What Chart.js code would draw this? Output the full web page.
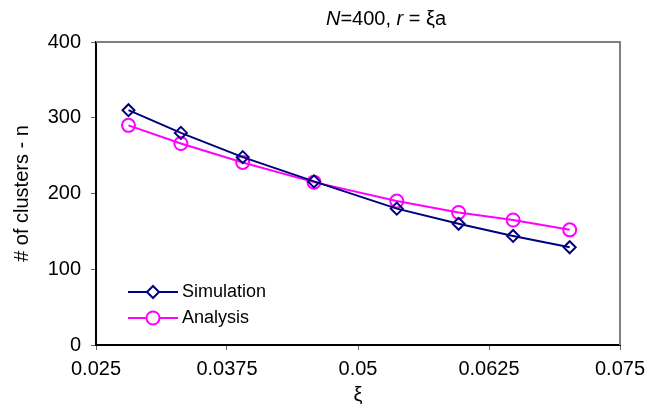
<!DOCTYPE html>
<html>
<head>
<meta charset="utf-8">
<script src="https://cdn.jsdelivr.net/npm/chart.js@4.4.0/dist/chart.umd.min.js"></script>
<style>
  html, body { margin: 0; padding: 0; background: #fff; }
  canvas { display: block; }
</style>
</head>
<body>
<canvas id="chart" width="646" height="415"></canvas>
<script>
// data
const xi = [0.0281, 0.0331, 0.0390, 0.0458, 0.0537, 0.0596, 0.0648, 0.0702];
const simulation = [310, 280, 248, 216, 180, 160, 144, 129];
const analysis = [290, 266, 241, 215, 190, 175, 165, 152];
const xTicks = [0.025, 0.0375, 0.05, 0.0625, 0.075];
const xTickLabels = ['0.025', '0.0375', '0.05', '0.0625', '0.075'];
const yTicks = [0, 100, 200, 300, 400];

const FONT = "'Liberation Sans', Arial, sans-serif";

const points = ys => ys.map((y, i) => ({ x: xi[i], y: y }));

// frame (grey top/right), title with italics, legend inside the plot
const decorations = {
  id: 'decorations',
  afterDraw(chart) {
    const ctx = chart.ctx;
    const a = chart.chartArea;
    ctx.save();
    ctx.strokeStyle = '#808080';
    ctx.lineWidth = 2;
    ctx.beginPath();
    ctx.moveTo(a.left, a.top);
    ctx.lineTo(a.right, a.top);
    ctx.lineTo(a.right, a.bottom);
    ctx.stroke();

    // title
    const parts = [
      ['N', true], ['=400, ', false], ['r', true], [' = \u03BEa', false]
    ];
    ctx.fillStyle = '#000';
    ctx.textBaseline = 'middle';
    let total = 0;
    parts.forEach(p => {
      ctx.font = (p[1] ? 'italic ' : '') + '20px ' + FONT;
      total += ctx.measureText(p[0]).width;
    });
    let x = 386 - total / 2;
    parts.forEach(p => {
      ctx.font = (p[1] ? 'italic ' : '') + '20px ' + FONT;
      ctx.fillText(p[0], x, 19);
      x += ctx.measureText(p[0]).width;
    });

    // legend
    chart.data.datasets.forEach((ds, i) => {
      const y = 292 + i * 26;
      const x0 = 128, x1 = 178, mx = 153;
      ctx.strokeStyle = ds.borderColor;
      ctx.lineWidth = 2;
      ctx.beginPath();
      ctx.moveTo(x0, y);
      ctx.lineTo(x1, y);
      ctx.stroke();
      ctx.fillStyle = '#fff';
      Chart.helpers.drawPoint(ctx, {
        pointStyle: ds.pointStyle,
        radius: ds.pointRadius,
        borderWidth: 2
      }, mx, y);
      ctx.fillStyle = '#000';
      ctx.font = '18px ' + FONT;
      ctx.textBaseline = 'middle';
      ctx.fillText(ds.label, 182, y);
    });
    ctx.restore();
  }
};

new Chart(document.getElementById('chart'), {
  type: 'line',
  data: {
    datasets: [
      {
        label: 'Simulation',
        data: points(simulation),
        borderColor: '#000080',
        backgroundColor: 'rgba(0,0,0,0)',
        borderWidth: 2,
        pointStyle: 'rectRot',
        pointRadius: 6,
        pointBorderWidth: 2,
        pointBackgroundColor: 'rgba(0,0,0,0)',
        pointBorderColor: '#000080'
      },
      {
        label: 'Analysis',
        data: points(analysis),
        borderColor: '#FF00FF',
        backgroundColor: 'rgba(0,0,0,0)',
        borderWidth: 2,
        pointStyle: 'circle',
        pointRadius: 6.5,
        pointBorderWidth: 2,
        pointBackgroundColor: 'rgba(0,0,0,0)',
        pointBorderColor: '#FF00FF'
      }
    ]
  },
  options: {
    responsive: false,
    animation: false,
    devicePixelRatio: 1,
    layout: { padding: { left: 0, top: 42, right: 26, bottom: 0 } },
    plugins: {
      legend: { display: false },
      tooltip: { enabled: false }
    },
    scales: {
      x: {
        type: 'linear',
        min: 0.025,
        max: 0.075,
        afterBuildTicks: s => { s.ticks = xTicks.map(v => ({ value: v })); },
        afterFit: s => { s.height = 70; s.paddingLeft = 0; s.paddingRight = 0; },
        ticks: {
          callback: (v, i) => xTickLabels[i],
          color: '#000',
          font: { family: FONT, size: 20 },
          padding: 7,
          maxRotation: 0
        },
        grid: { drawOnChartArea: false, tickLength: 5, color: '#000', tickColor: '#666' },
        border: { color: '#000', width: 2 },
        title: {
          display: true,
          text: '\u03BE',
          color: '#000',
          font: { family: FONT, size: 20 },
          padding: { top: 0, bottom: 8 }
        }
      },
      y: {
        min: 0,
        max: 400,
        afterBuildTicks: s => { s.ticks = yTicks.map(v => ({ value: v })); },
        afterFit: s => { s.width = 96; s.paddingTop = 0; s.paddingBottom = 0; },
        ticks: {
          color: '#000',
          font: { family: FONT, size: 20 },
          padding: 10
        },
        grid: { drawOnChartArea: false, tickLength: 5, color: '#000', tickColor: '#666' },
        border: { color: '#000', width: 2 },
        title: {
          display: true,
          text: '# of clusters - n',
          color: '#000',
          font: { family: FONT, size: 20 },
          padding: { top: 10, bottom: 0 }
        }
      }
    }
  },
  plugins: [decorations]
});
</script>
</body>
</html>
